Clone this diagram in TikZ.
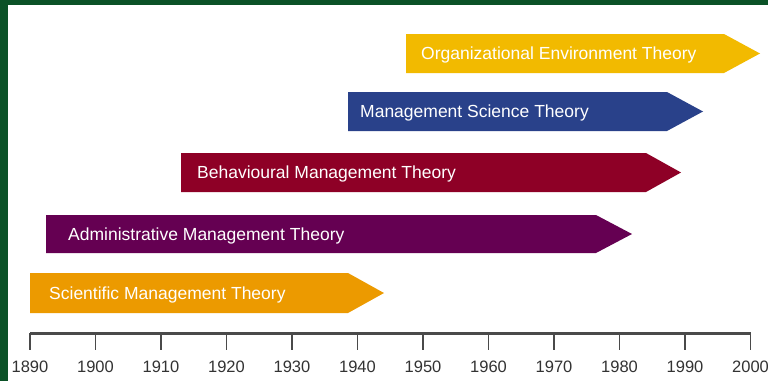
\documentclass[tikz,border=0pt]{standalone}
\usepackage{fontspec}
\setmainfont{Liberation Sans}
\definecolor{frame}{HTML}{0B5227}
\definecolor{cyellow}{HTML}{F2BA00}
\definecolor{cblue}{HTML}{29418A}
\definecolor{ccrimson}{HTML}{8E0026}
\definecolor{cpurple}{HTML}{650052}
\definecolor{corange}{HTML}{EC9A00}
\definecolor{axisgray}{HTML}{4A4A4A}
\definecolor{labgray}{HTML}{333333}
\begin{document}
\begin{tikzpicture}[x=1pt,y=-1pt,
  bartext/.style={anchor=west,text=white,font=\fontsize{17.5}{19}\selectfont,inner sep=0pt},
  yearlab/.style={anchor=center,text=labgray,font=\fontsize{16.5}{18}\selectfont,inner sep=0pt},
  tickline/.style={draw=axisgray,line width=1.3pt}]
\useasboundingbox (0,0) rectangle (768,381);
\fill[white] (0,0) rectangle (768,381);
\fill[frame] (0,0) rectangle (768,5);
\fill[frame] (0,0) rectangle (8,381);
% arrows: (left, top, corner, point, bottom)
\newcommand{\tlbar}[6]{%
  \fill[#6] (#1,#2) -- (#3,#2) -- (#4,{(#2+#5)/2}) -- (#3,#5) -- (#1,#5) -- cycle;}
\tlbar{406}{34}{724}{760}{73}{cyellow}
\node[bartext] (org) at (421,55) {Organizational Environment Theory};
\tlbar{348}{92}{667}{703}{131}{cblue}
\node[bartext] (mst) at (360,113) {Management Science Theory};
\tlbar{181}{153}{646}{681}{192}{ccrimson}
\node[bartext] (beh) at (197,174) {Behavioural Management Theory};
\tlbar{46}{215}{596}{632}{253}{cpurple}
\node[bartext] (adm) at (68,235.5) {Administrative Management Theory};
\tlbar{30}{273}{348}{384}{313}{corange}
\node[bartext] (sci) at (49,294.5) {Scientific Management Theory};
% axis
\coordinate (axl) at (30,333);
\coordinate (axr) at (751,333);
\draw[axisgray,line width=3pt] (axl) -- (axr);
\foreach \yr [count=\i from 0] in {1890,1900,1910,1920,1930,1940,1950,1960,1970,1980,1990,2000}{
  \coordinate (t\i) at ({30+\i*65.5},333);
  \coordinate (b\i) at ({30+\i*65.5},350);
  \draw[tickline] (t\i) -- (b\i);
  \node[yearlab] (y\i) at ({30+\i*65.5},367) {\yr};
}
\end{tikzpicture}
\end{document}
